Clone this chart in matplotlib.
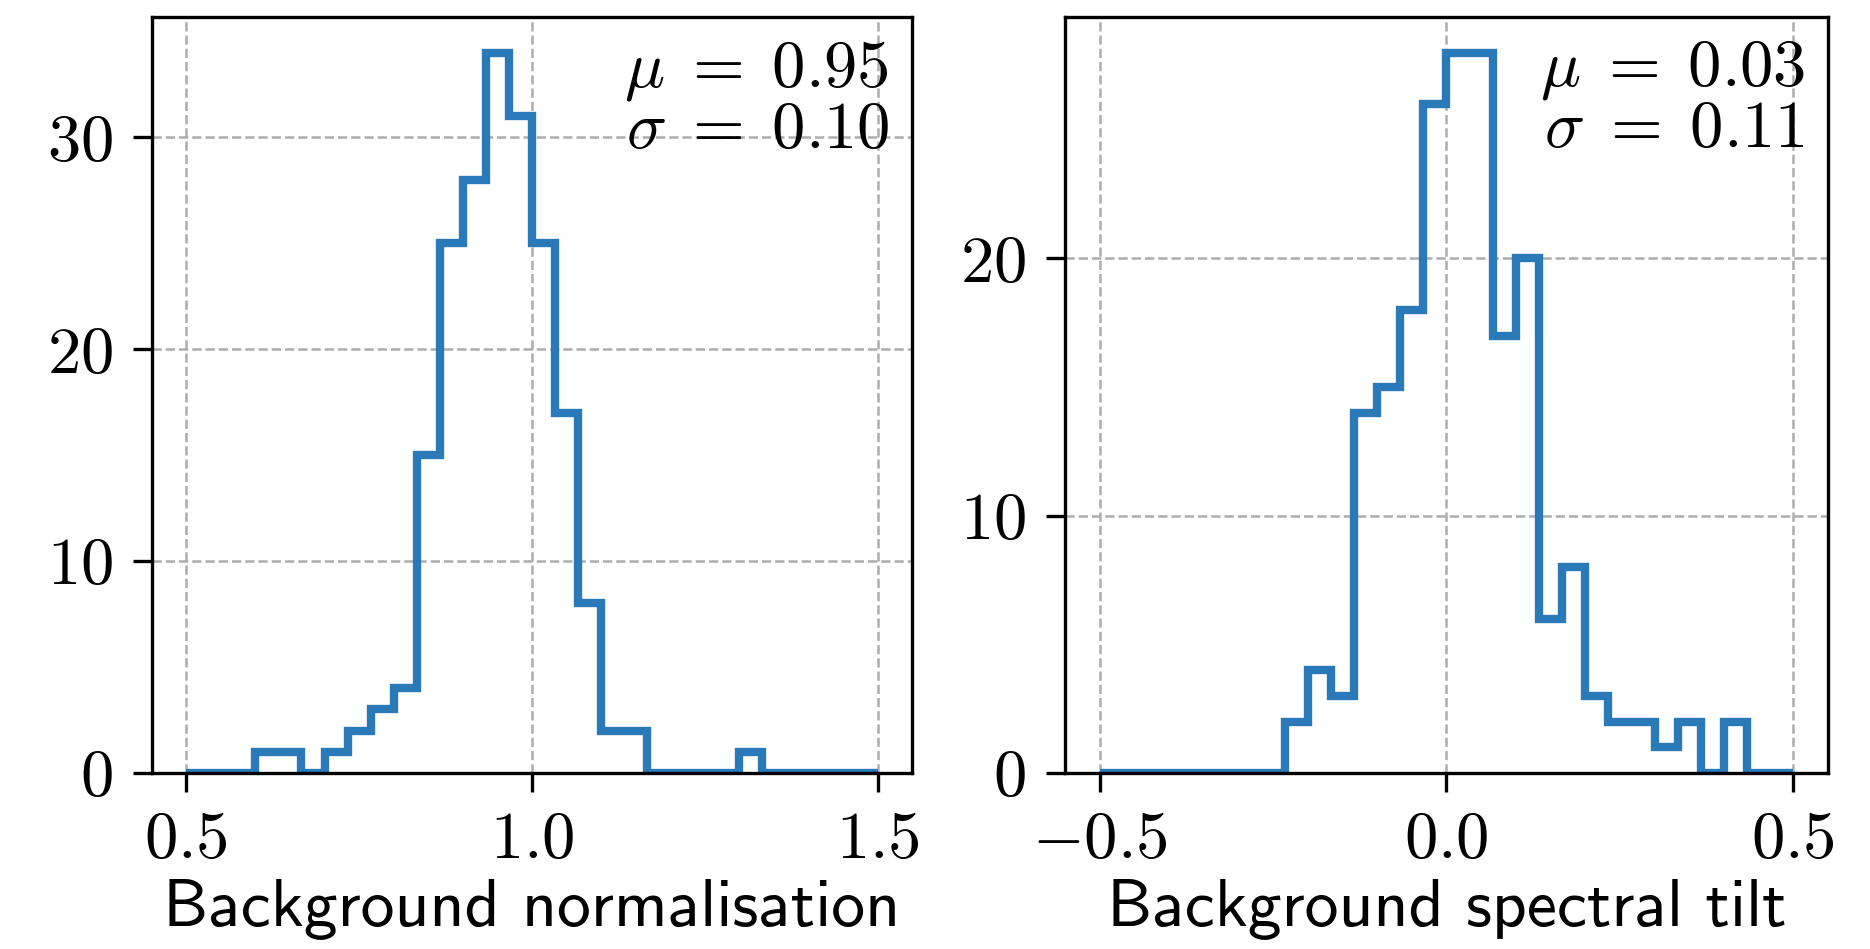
import numpy as np
import matplotlib
matplotlib.use('Agg')
import matplotlib.pyplot as plt

"""
Step histograms of the fitted background parameters (normalisation and spectral tilt)
"""

# Bin edges of the two histograms (30 bins each)
norm_edges = np.linspace(0.5, 1.5, 31)
tilt_edges = np.linspace(-0.5, 0.5, 31)

# Counts per bin
norm_counts = [0, 0, 0, 1, 1, 0, 1, 2, 3, 4, 15, 25, 28, 34, 31,
               25, 17, 8, 2, 2, 0, 0, 0, 0, 1, 0, 0, 0, 0, 0]
tilt_counts = [0, 0, 0, 0, 0, 0, 0, 0, 2, 4, 3, 14, 15, 18, 26,
               28, 28, 17, 20, 6, 8, 3, 2, 2, 1, 2, 0, 2, 0, 0]

# Labels
norm_label = 'Background normalisation'
tilt_label = 'Background spectral tilt'
norm_stats = r'$\mu\;=\;0.95$' + '\n' + r'$\sigma\;=\;0.10$'
tilt_stats = r'$\mu\;=\;0.03$' + '\n' + r'$\sigma\;=\;0.11$'

LINE_COLOR = '#2a7ab9'

plt.rcParams['font.family'] = 'cmr10'
plt.rcParams['mathtext.fontset'] = 'cm'
plt.rcParams['axes.formatter.use_mathtext'] = True
plt.rcParams['font.size'] = 12
plt.rcParams['axes.linewidth'] = 0.6
plt.rcParams['xtick.major.width'] = 0.6
plt.rcParams['ytick.major.width'] = 0.6


def draw_panel(ax, edges, counts, xlabel, stats):
    """
    Draw one step histogram with its grid, label and summary text
    """
    ax.hist(edges[:-1], bins=edges, weights=counts, histtype='step',
            color=LINE_COLOR, linewidth=1.5)
    ax.grid(True, linestyle='--', color='0.68', linewidth=0.45)
    ax.set_axisbelow(True)
    ax.set_xlabel(xlabel, fontfamily='cmss10', fontsize=12.2, labelpad=1.3)
    ax.text(0.97, 0.97, stats, transform=ax.transAxes, ha='right', va='top',
            linespacing=0.95)


fig = plt.figure(figsize=(4.675, 2.3725), dpi=400)
ax1 = fig.add_axes([0.0811, 0.1855, 0.4067, 0.797])
ax2 = fig.add_axes([0.5695, 0.1855, 0.408, 0.797])

draw_panel(ax1, norm_edges, norm_counts, norm_label, norm_stats)
draw_panel(ax2, tilt_edges, tilt_counts, tilt_label, tilt_stats)

ax1.set_xticks([0.5, 1.0, 1.5])
ax2.set_xticks([-0.5, 0.0, 0.5])

fig.savefig('out.png', dpi=400)
